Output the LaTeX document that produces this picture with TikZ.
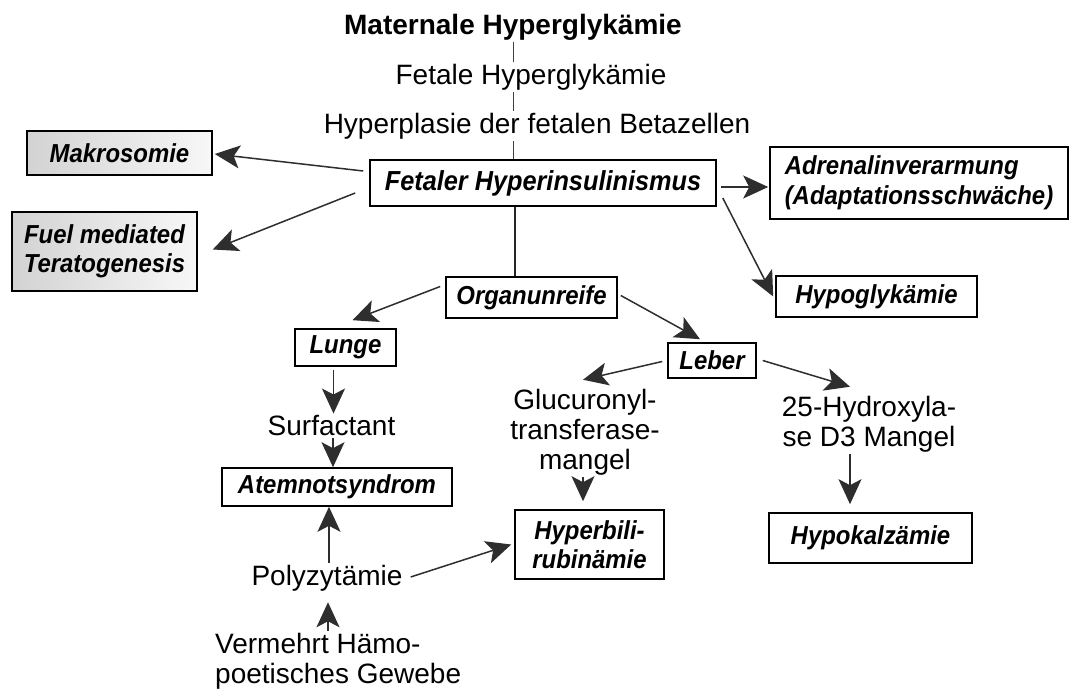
\documentclass[tikz,border=0pt]{standalone}
\usepackage{fontspec}
\setmainfont{Liberation Sans}
\newfontfamily\kastenfont[FakeStretch=0.92]{Liberation Sans}
\usetikzlibrary{arrows.meta,calc}

\begin{document}
\begin{tikzpicture}[
    x=1pt,
    y=-1pt,
    >={Stealth[length=25pt,width=23pt,inset=6pt]},
    titel/.style={
        inner sep=2pt,
        font=\fontsize{28}{30}\selectfont\bfseries
    },
    beschr/.style={
        inner sep=2pt,
        align=center,
        font=\fontsize{28}{30}\selectfont
    },
    kasten/.style={
        draw,
        line width=1.6pt,
        inner sep=0pt,
        align=center,
        font=\kastenfont\fontsize{26}{29.5}\selectfont\bfseries\itshape
    },
    kastengrau/.style={
        kasten,
        left color=gray!35,
        right color=gray!6
    },
    pfeil/.style={
        ->,
        line width=1.5pt,
        draw=black!82
    },
    linie/.style={
        line width=1.5pt,
        draw=black!85
    },
    duenn/.style={
        line width=1pt,
        draw=black!75
    }
]

% Page frame
\fill[white] (0,0) rectangle (1072,690);
\useasboundingbox (0,0) rectangle (1072,690);

% Causal chain at the top
\node[titel] (mat) at (513,27) {Maternale Hyperglykämie};
\node[beschr] (fet) at (531,77) {Fetale Hyperglykämie};
\node[beschr] (beta) at (537,126) {Hyperplasie der fetalen Betazellen};

% Central box
\node[kasten, minimum width=346, minimum height=46, font=\kastenfont\fontsize{27.5}{30}\selectfont\bfseries\itshape] (hyper) at (543,183) {Fetaler Hyperinsulinismus};

% Direct consequences
\node[kastengrau, minimum width=185, minimum height=44] (makro) at (119.5,153) {Makrosomie};
\node[kastengrau, minimum width=185, minimum height=79] (fuel) at (104.5,251.5) {Fuel mediated\\Teratogenesis};
\node[kasten, minimum width=298, minimum height=72, align=left] (adren) at (919,183) {Adrenalinverarmung\\(Adaptationsschwäche)};
\node[kasten, minimum width=201, minimum height=41] (hypo) at (876.5,296.5) {Hypoglykämie};
\node[kasten, minimum width=171, minimum height=41] (organ) at (531.5,297.5) {Organunreife};

% Organs
\node[kasten, minimum width=101, minimum height=37] (lunge) at (345.5,347.5) {Lunge};
\node[kasten, minimum width=88, minimum height=35] (leber) at (712,360.5) {Leber};

% Lung branch
\node[beschr] (surf) at (331.5,426) {Surfactant};
\node[kasten, minimum width=230, minimum height=38] (atem) at (337,487) {Atemnotsyndrom};
\node[beschr] (poly) at (327,578) {Polyzytämie};
\node[beschr, align=left, anchor=west] (haemo) at (213,661) {Vermehrt Hämo-\\poetisches Gewebe};

% Liver branch
\node[beschr] (gluc) at (585,432) {Glucuronyl-\\transferase-\\mangel};
\node[kasten, minimum width=149, minimum height=69] (bili) at (589.5,544.5) {Hyperbili-\\rubinämie};
\node[beschr] (hydro) at (869,424) {25-Hydroxyla-\\se D3 Mangel};
\node[kasten, minimum width=203, minimum height=50] (kalz) at (870.5,538) {Hypokalzämie};

% Vertical chain
\draw[duenn] (mat.south) -- (mat.south |- fet.north);
\draw[duenn] (mat.south |- fet.south) -- (mat.south |- beta.north);
\draw[duenn] (mat.south |- beta.south) -- (mat.south |- hyper.north);

% Arrows from the central box
\draw[pfeil] ($(hyper.west)+(-6,-12)$) -- ($(makro.east)+(2,1)$);
\draw[pfeil] ($(hyper.west)+(-14,10)$) -- ($(fuel.east)+(15,-2)$);
\draw[pfeil] ($(hyper.east)+(4,4)$) -- ($(adren.west)+(-1,4)$);
\draw[pfeil] ($(hyper.east)+(6,15)$) -- ($(hypo.west)+(-2,0)$);
\draw[linie] ([xshift=-28pt]hyper.south) -- ([xshift=-28pt]hyper.south |- organ.north);

% Organ immaturity
\draw[pfeil] ($(organ.west)+(-5,-11)$) -- ($(lunge.north)+(7,-8)$);
\draw[pfeil] ($(organ.east)+(3,-2)$) -- ($(leber.north)+(-12,-3)$);

% Lung
\draw[pfeil] ([xshift=-12pt,yshift=-3pt]lunge.south) -- ([xshift=-12pt]lunge.south |- surf.north);
\draw[pfeil] ([xshift=-4pt]atem.north |- surf.south) -- ([xshift=-4pt]atem.north);
\draw[pfeil] ([xshift=2pt]poly.north) -- ([xshift=2pt]poly.north |- atem.south);
\draw[pfeil] ($(poly.east)+(6,-1)$) -- ($(bili.west)+(-3,0)$);
\draw[pfeil] ([xshift=1pt]poly.south |- haemo.north) -- ([xshift=1pt,yshift=-9pt]poly.south);

% Liver
\draw[pfeil] ($(leber.west)+(-5,1)$) -- ($(gluc.north)+(-2,-7)$);
\draw[pfeil] ($(leber.east)+(6,0)$) -- ($(hydro.north)+(-19,-7)$);
\draw[pfeil] ([xshift=-6.5pt]bili.north |- gluc.south) -- ([xshift=-6.5pt,yshift=8pt]bili.north);
\draw[pfeil] ([xshift=-20.5pt]kalz.north |- hydro.south) -- ([xshift=-20.5pt,yshift=8pt]kalz.north);

\end{tikzpicture}
\end{document}
